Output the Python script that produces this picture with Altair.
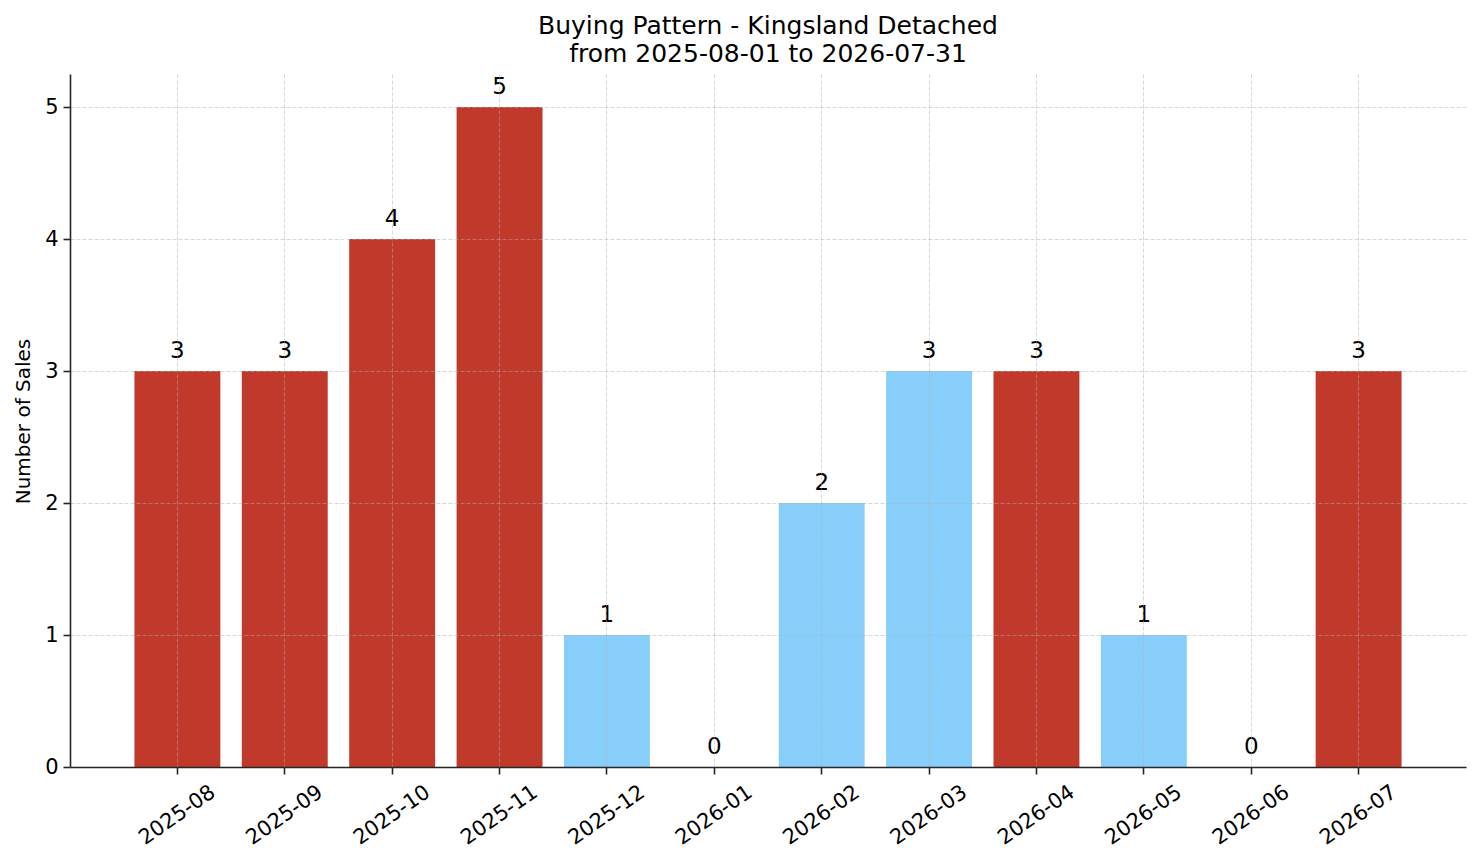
import altair as alt
import pandas as pd

months = ["2025-08", "2025-09", "2025-10", "2025-11", "2025-12", "2026-01",
          "2026-02", "2026-03", "2026-04", "2026-05", "2026-06", "2026-07"]
sales = [3, 3, 4, 5, 1, 0, 2, 3, 3, 1, 0, 3]
group = ["high", "high", "high", "high", "low", "low",
         "low", "low", "high", "low", "low", "high"]

df = pd.DataFrame({"month": months, "sales": sales, "group": group})

FONT = "DejaVu Sans"
W, H = 1396, 693

x_enc = alt.X("month:N", sort=months, title=None,
              scale=alt.Scale(paddingInner=0.2, paddingOuter=0.6),
              axis=alt.Axis(labelAngle=-35, labelAlign="center", labelBaseline="middle",
                            labelPadding=41, labelFontSize=21, labelFont=FONT,
                            labelColor="#000000", tickSize=7, tickWidth=1.6,
                            tickColor="#262626", domainColor="#262626", domainWidth=1.6,
                            grid=True, gridColor="#b0b0b0", gridOpacity=0.5,
                            gridDash=[4, 2], gridWidth=1, zindex=1))

y_enc = alt.Y("sales:Q", title="Number of Sales",
              scale=alt.Scale(domain=[0, 5.25], nice=False, zero=True),
              axis=alt.Axis(values=[0, 1, 2, 3, 4, 5], format="d",
                            labelFontSize=21, labelFont=FONT, labelColor="#000000",
                            labelPadding=5, tickSize=7, tickWidth=1.6,
                            tickColor="#262626", domainColor="#262626", domainWidth=1.6,
                            grid=True, gridColor="#b0b0b0", gridOpacity=0.5,
                            gridDash=[4, 2], gridWidth=1, zindex=1,
                            titleFontSize=20, titleFont=FONT, titleFontWeight="normal",
                            titleColor="#000000", titleX=-47, titleY=347,
                            titleAngle=-90, titleAlign="center", titleBaseline="middle"))

bars = alt.Chart(df).mark_bar().encode(
    x=x_enc,
    y=y_enc,
    color=alt.Color("group:N", legend=None,
                    scale=alt.Scale(domain=["high", "low"], range=["#c0392b", "#87cefa"])),
)

labels = alt.Chart(df).mark_text(fontSize=23, font=FONT, color="#000000",
                                 baseline="alphabetic", dy=-13).encode(
    x=alt.X("month:N", sort=months),
    y=alt.Y("sales:Q"),
    text=alt.Text("sales:Q", format="d"),
)

chart = (bars + labels).properties(
    width=W, height=H,
    title=alt.TitleParams(["Buying Pattern - Kingsland Detached", "from 2025-08-01 to 2026-07-31"],
                          fontSize=25, font=FONT, fontWeight="normal", color="#000000",
                          lineHeight=28, offset=7, anchor="middle"),
    autosize=alt.AutoSizeParams(type="none"),
    padding={"left": 62, "top": 66, "right": 7, "bottom": 86},
).configure_view(stroke=None)

chart.save("out.html", embed_options={"renderer": "svg", "actions": False})
